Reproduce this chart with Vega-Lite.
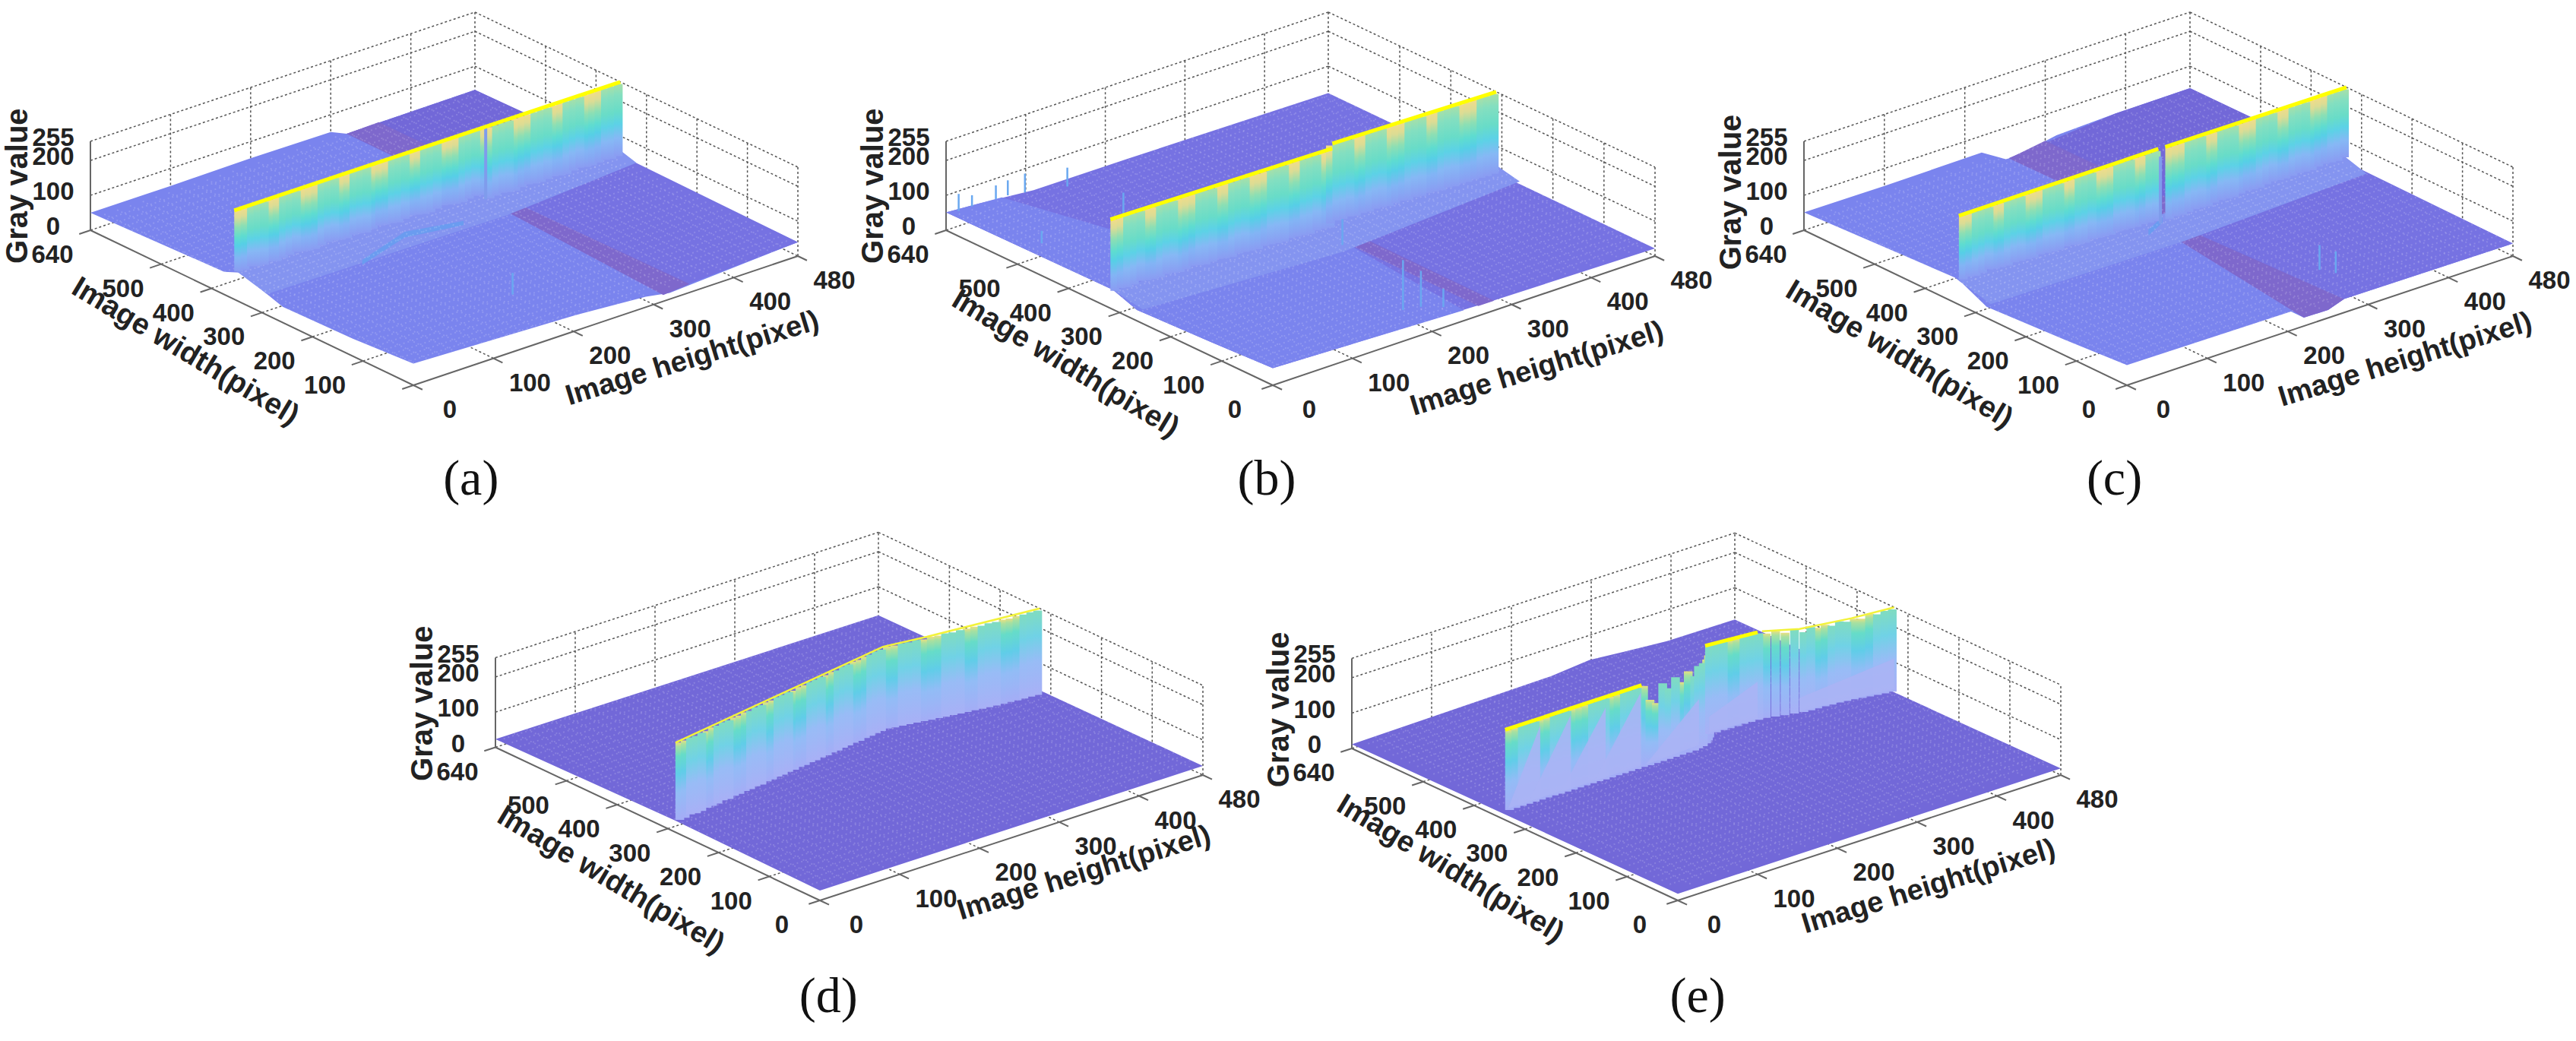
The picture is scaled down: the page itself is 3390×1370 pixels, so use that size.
{"$schema":"https://vega.github.io/schema/vega-lite/v6.json","width":3390,"height":1370,"autosize":{"type":"fit","contains":"padding"},"padding":0,"background":"white","config":{"view":{"stroke":null}},
"params":[{"name":"P","value":{"a":[544,507,-425,-204,506,-170,0.459],"b":[1675,507,-430,-204,503,-170,0.459],"c":[2799,507,-425,-204,508,-170,0.459],"d":[1079,1185,-427,-201.5,504,-165,0.4625],"e":[2208,1185,-429,-200,504,-165,0.465]}}],
"data":{"values":[
{"k":"g","p":"abcde","w":640,"h":0,"g":0,"w2":640,"h2":480,"g2":0},{"k":"g","p":"abcde","w":640,"h":0,"g":100,"w2":640,"h2":480,"g2":100},{"k":"g","p":"abcde","w":640,"h":0,"g":200,"w2":640,"h2":480,"g2":200},{"k":"g","p":"abcde","w":640,"h":0,"g":255,"w2":640,"h2":480,"g2":255},
{"k":"g","p":"abcde","w":640,"h":480,"g":0,"w2":0,"h2":480,"g2":0},{"k":"g","p":"abcde","w":640,"h":480,"g":100,"w2":0,"h2":480,"g2":100},{"k":"g","p":"abcde","w":640,"h":480,"g":200,"w2":0,"h2":480,"g2":200},{"k":"g","p":"abcde","w":640,"h":480,"g":255,"w2":0,"h2":480,"g2":255},
{"k":"g","p":"abcde","w":640,"h":100,"g":0,"w2":640,"h2":100,"g2":255},{"k":"g","p":"abcde","w":640,"h":200,"g":0,"w2":640,"h2":200,"g2":255},{"k":"g","p":"abcde","w":640,"h":300,"g":0,"w2":640,"h2":300,"g2":255},{"k":"g","p":"abcde","w":640,"h":400,"g":0,"w2":640,"h2":400,"g2":255},{"k":"g","p":"abcde","w":640,"h":480,"g":0,"w2":640,"h2":480,"g2":255},
{"k":"g","p":"abcde","w":500,"h":480,"g":0,"w2":500,"h2":480,"g2":255},{"k":"g","p":"abcde","w":400,"h":480,"g":0,"w2":400,"h2":480,"g2":255},{"k":"g","p":"abcde","w":300,"h":480,"g":0,"w2":300,"h2":480,"g2":255},{"k":"g","p":"abcde","w":200,"h":480,"g":0,"w2":200,"h2":480,"g2":255},{"k":"g","p":"abcde","w":100,"h":480,"g":0,"w2":100,"h2":480,"g2":255},{"k":"g","p":"abcde","w":0,"h":480,"g":0,"w2":0,"h2":480,"g2":255},
{"k":"g","p":"abcde","w":500,"h":0,"g":0,"w2":500,"h2":480,"g2":0},{"k":"g","p":"abcde","w":400,"h":0,"g":0,"w2":400,"h2":480,"g2":0},{"k":"g","p":"abcde","w":300,"h":0,"g":0,"w2":300,"h2":480,"g2":0},{"k":"g","p":"abcde","w":200,"h":0,"g":0,"w2":200,"h2":480,"g2":0},{"k":"g","p":"abcde","w":100,"h":0,"g":0,"w2":100,"h2":480,"g2":0},
{"k":"g","p":"abcde","w":0,"h":100,"g":0,"w2":640,"h2":100,"g2":0},{"k":"g","p":"abcde","w":0,"h":200,"g":0,"w2":640,"h2":200,"g2":0},{"k":"g","p":"abcde","w":0,"h":300,"g":0,"w2":640,"h2":300,"g2":0},{"k":"g","p":"abcde","w":0,"h":400,"g":0,"w2":640,"h2":400,"g2":0},
{"k":"a","p":"abcde","w":640,"h":0,"g":0,"w2":0,"h2":0,"g2":0},{"k":"a","p":"abcde","w":0,"h":0,"g":0,"w2":0,"h2":480,"g2":0},{"k":"a","p":"abcde","w":640,"h":0,"g":0,"w2":640,"h2":0,"g2":255},
{"k":"a","p":"abcde","w":640,"h":0,"g":0,"w2":640,"h2":-14,"g2":0},{"k":"a","p":"abcde","w":500,"h":0,"g":0,"w2":500,"h2":-14,"g2":0},{"k":"a","p":"abcde","w":400,"h":0,"g":0,"w2":400,"h2":-14,"g2":0},{"k":"a","p":"abcde","w":300,"h":0,"g":0,"w2":300,"h2":-14,"g2":0},{"k":"a","p":"abcde","w":200,"h":0,"g":0,"w2":200,"h2":-14,"g2":0},{"k":"a","p":"abcde","w":100,"h":0,"g":0,"w2":100,"h2":-14,"g2":0},{"k":"a","p":"abcde","w":0,"h":0,"g":0,"w2":0,"h2":-14,"g2":0},
{"k":"a","p":"abcde","w":0,"h":0,"g":0,"w2":-18,"h2":0,"g2":0},{"k":"a","p":"abcde","w":0,"h":100,"g":0,"w2":-18,"h2":100,"g2":0},{"k":"a","p":"abcde","w":0,"h":200,"g":0,"w2":-18,"h2":200,"g2":0},{"k":"a","p":"abcde","w":0,"h":300,"g":0,"w2":-18,"h2":300,"g2":0},{"k":"a","p":"abcde","w":0,"h":400,"g":0,"w2":-18,"h2":400,"g2":0},{"k":"a","p":"abcde","w":0,"h":480,"g":0,"w2":-18,"h2":480,"g2":0},

{"k":"f","p":"a","d":"a1","c":"l","w":640,"h":0,"g":50},{"k":"f","p":"a","d":"a1","c":"l","w":375,"h":0,"g":65},{"k":"f","p":"a","d":"a1","c":"l","w":343,"h":0,"g":85},{"k":"f","p":"a","d":"a1","c":"l","w":259,"h":0,"g":45},{"k":"f","p":"a","d":"a1","c":"l","w":120,"h":0,"g":50},{"k":"f","p":"a","d":"a1","c":"l","w":0,"h":0,"g":62},{"k":"f","p":"a","d":"a1","c":"l","w":0,"h":200,"g":45},{"k":"f","p":"a","d":"a1","c":"l","w":0,"h":290,"g":30},{"k":"f","p":"a","d":"a1","c":"l","w":0,"h":320,"g":18},{"k":"f","p":"a","d":"a1","c":"l","w":0,"h":480,"g":40},{"k":"f","p":"a","d":"a1","c":"l","w":640,"h":480,"g":32},{"k":"f","p":"a","d":"a1","c":"l","w":640,"h":320,"g":30},{"k":"f","p":"a","d":"a1","c":"l","w":640,"h":300,"g":50},{"k":"f","p":"a","d":"a1","c":"l","w":640,"h":200,"g":52},{"k":"f","p":"a","d":"a1","c":"l","w":640,"h":100,"g":50},
{"k":"f","p":"a","d":"a2","c":"m","w":350,"h":312,"g":50},{"k":"f","p":"a","d":"a2","c":"m","w":0,"h":312,"g":22},{"k":"f","p":"a","d":"a2","c":"m","w":0,"h":480,"g":40},{"k":"f","p":"a","d":"a2","c":"m","w":350,"h":480,"g":45},
{"k":"f","p":"a","d":"a3","c":"r","w":352,"h":312,"g":45},{"k":"f","p":"a","d":"a3","c":"r","w":0,"h":312,"g":18},{"k":"f","p":"a","d":"a3","c":"r","w":0,"h":345,"g":24},{"k":"f","p":"a","d":"a3","c":"r","w":352,"h":330,"g":45},
{"k":"f","p":"a","d":"a4","c":"n","w":640,"h":320,"g":30},{"k":"f","p":"a","d":"a4","c":"n","w":640,"h":480,"g":32},{"k":"f","p":"a","d":"a4","c":"n","w":355,"h":480,"g":40},{"k":"f","p":"a","d":"a4","c":"n","w":355,"h":320,"g":30},
{"k":"f","p":"a","d":"a5","c":"r","w":640,"h":320,"g":30},{"k":"f","p":"a","d":"a5","c":"r","w":640,"h":360,"g":32},{"k":"f","p":"a","d":"a5","c":"r","w":355,"h":360,"g":35},{"k":"f","p":"a","d":"a5","c":"r","w":355,"h":320,"g":30},
{"k":"f","p":"a","d":"a6","c":"t","w":355,"h":0,"g":85},{"k":"f","p":"a","d":"a6","c":"t","w":355,"h":480,"g":60},{"k":"f","p":"a","d":"a6","c":"t","w":320,"h":480,"g":45},{"k":"f","p":"a","d":"a6","c":"t","w":290,"h":300,"g":55},{"k":"f","p":"a","d":"a6","c":"t","w":290,"h":0,"g":60},
{"k":"f","p":"a","d":"a7","c":"b","w":287,"h":117,"g":56},{"k":"f","p":"a","d":"a7","c":"b","w":317,"h":189,"g":58},{"k":"f","p":"a","d":"a7","c":"b","w":299,"h":251,"g":58},{"k":"f","p":"a","d":"a7","c":"b","w":299,"h":251,"g":70},{"k":"f","p":"a","d":"a7","c":"b","w":317,"h":189,"g":74},{"k":"f","p":"a","d":"a7","c":"b","w":287,"h":117,"g":70},

{"k":"f","p":"b","d":"b1","c":"m","w":640,"h":0,"g":51},{"k":"f","p":"b","d":"b1","c":"m","w":313,"h":0,"g":56},{"k":"f","p":"b","d":"b1","c":"m","w":266,"h":0,"g":31},{"k":"f","p":"b","d":"b1","c":"m","w":120,"h":0,"g":40},{"k":"f","p":"b","d":"b1","c":"m","w":0,"h":0,"g":49},{"k":"f","p":"b","d":"b1","c":"m","w":0,"h":270,"g":29},{"k":"f","p":"b","d":"b1","c":"m","w":0,"h":480,"g":22},{"k":"f","p":"b","d":"b1","c":"m","w":640,"h":480,"g":23},{"k":"f","p":"b","d":"b1","c":"m","w":640,"h":230,"g":29},{"k":"f","p":"b","d":"b1","c":"m","w":640,"h":110,"g":30},{"k":"f","p":"b","d":"b1","c":"m","w":640,"h":40,"g":45},
{"k":"f","p":"b","d":"b2","c":"l","w":640,"h":0,"g":51},{"k":"f","p":"b","d":"b2","c":"l","w":313,"h":0,"g":56},{"k":"f","p":"b","d":"b2","c":"l","w":313,"h":130,"g":40},{"k":"f","p":"b","d":"b2","c":"l","w":640,"h":70,"g":40},
{"k":"f","p":"b","d":"b3","c":"l","w":313,"h":0,"g":56},{"k":"f","p":"b","d":"b3","c":"l","w":266,"h":0,"g":31},{"k":"f","p":"b","d":"b3","c":"l","w":120,"h":0,"g":40},{"k":"f","p":"b","d":"b3","c":"l","w":0,"h":0,"g":49},{"k":"f","p":"b","d":"b3","c":"l","w":0,"h":240,"g":30},{"k":"f","p":"b","d":"b3","c":"l","w":300,"h":260,"g":30},
{"k":"f","p":"b","d":"b4","c":"r","w":270,"h":258,"g":30},{"k":"f","p":"b","d":"b4","c":"r","w":0,"h":258,"g":28},{"k":"f","p":"b","d":"b4","c":"r","w":0,"h":278,"g":28},{"k":"f","p":"b","d":"b4","c":"r","w":270,"h":278,"g":30},
{"k":"f","p":"b","d":"b5","c":"t","w":312,"h":0,"g":55},{"k":"f","p":"b","d":"b5","c":"t","w":312,"h":480,"g":45},{"k":"f","p":"b","d":"b5","c":"t","w":265,"h":480,"g":30},{"k":"f","p":"b","d":"b5","c":"t","w":235,"h":240,"g":35},{"k":"f","p":"b","d":"b5","c":"t","w":255,"h":0,"g":40},

{"k":"f","p":"c","d":"c1","c":"l","w":640,"h":0,"g":51},{"k":"f","p":"c","d":"c1","c":"l","w":341,"h":0,"g":72},{"k":"f","p":"c","d":"c1","c":"l","w":325,"h":0,"g":65},{"k":"f","p":"c","d":"c1","c":"l","w":278,"h":0,"g":32},{"k":"f","p":"c","d":"c1","c":"l","w":120,"h":0,"g":45},{"k":"f","p":"c","d":"c1","c":"l","w":0,"h":0,"g":58},{"k":"f","p":"c","d":"c1","c":"l","w":0,"h":204,"g":54},{"k":"f","p":"c","d":"c1","c":"l","w":0,"h":220,"g":24},{"k":"f","p":"c","d":"c1","c":"l","w":0,"h":250,"g":23},{"k":"f","p":"c","d":"c1","c":"l","w":0,"h":270,"g":39},{"k":"f","p":"c","d":"c1","c":"l","w":0,"h":480,"g":36},{"k":"f","p":"c","d":"c1","c":"l","w":640,"h":480,"g":37},{"k":"f","p":"c","d":"c1","c":"l","w":640,"h":387,"g":36},{"k":"f","p":"c","d":"c1","c":"l","w":640,"h":314,"g":30},{"k":"f","p":"c","d":"c1","c":"l","w":640,"h":264,"g":8},{"k":"f","p":"c","d":"c1","c":"l","w":640,"h":251,"g":10},{"k":"f","p":"c","d":"c1","c":"l","w":640,"h":221,"g":52},{"k":"f","p":"c","d":"c1","c":"l","w":640,"h":100,"g":50},
{"k":"f","p":"c","d":"c2","c":"m","w":330,"h":255,"g":30},{"k":"f","p":"c","d":"c2","c":"m","w":0,"h":250,"g":23},{"k":"f","p":"c","d":"c2","c":"m","w":0,"h":270,"g":39},{"k":"f","p":"c","d":"c2","c":"m","w":0,"h":480,"g":36},{"k":"f","p":"c","d":"c2","c":"m","w":330,"h":480,"g":40},
{"k":"f","p":"c","d":"c3","c":"r","w":335,"h":250,"g":25},{"k":"f","p":"c","d":"c3","c":"r","w":0,"h":220,"g":24},{"k":"f","p":"c","d":"c3","c":"r","w":0,"h":250,"g":23},{"k":"f","p":"c","d":"c3","c":"r","w":0,"h":270,"g":39},{"k":"f","p":"c","d":"c3","c":"r","w":335,"h":265,"g":30},
{"k":"f","p":"c","d":"c4","c":"n","w":640,"h":255,"g":10},{"k":"f","p":"c","d":"c4","c":"n","w":640,"h":387,"g":36},{"k":"f","p":"c","d":"c4","c":"n","w":640,"h":480,"g":37},{"k":"f","p":"c","d":"c4","c":"n","w":330,"h":480,"g":40},{"k":"f","p":"c","d":"c4","c":"n","w":330,"h":255,"g":20},
{"k":"f","p":"c","d":"c5","c":"r","w":640,"h":255,"g":9},{"k":"f","p":"c","d":"c5","c":"r","w":640,"h":300,"g":25},{"k":"f","p":"c","d":"c5","c":"r","w":330,"h":300,"g":30},{"k":"f","p":"c","d":"c5","c":"r","w":330,"h":255,"g":15},
{"k":"f","p":"c","d":"c6","c":"t","w":335,"h":0,"g":70},{"k":"f","p":"c","d":"c6","c":"t","w":335,"h":480,"g":55},{"k":"f","p":"c","d":"c6","c":"t","w":290,"h":480,"g":35},{"k":"f","p":"c","d":"c6","c":"t","w":270,"h":240,"g":40},{"k":"f","p":"c","d":"c6","c":"t","w":270,"h":0,"g":45},
{"k":"f","p":"c","d":"c7","c":"b","w":300,"h":215,"g":55},{"k":"f","p":"c","d":"c7","c":"b","w":320,"h":245,"g":55},{"k":"f","p":"c","d":"c7","c":"b","w":320,"h":245,"g":72},{"k":"f","p":"c","d":"c7","c":"b","w":300,"h":215,"g":72},

{"k":"f","p":"d","d":"d1","c":"n","w":640,"h":0,"g":23},{"k":"f","p":"d","d":"d1","c":"n","w":285,"h":0,"g":33},{"k":"f","p":"d","d":"d1","c":"n","w":0,"h":0,"g":28},{"k":"f","p":"d","d":"d1","c":"n","w":0,"h":480,"g":26},{"k":"f","p":"d","d":"d1","c":"n","w":640,"h":480,"g":19},
{"k":"f","p":"e","d":"e1","c":"n","w":640,"h":0,"g":12},{"k":"f","p":"e","d":"e1","c":"n","w":0,"h":0,"g":19},{"k":"f","p":"e","d":"e1","c":"n","w":0,"h":480,"g":19},{"k":"f","p":"e","d":"e1","c":"n","w":640,"h":480,"g":10},{"k":"f","p":"e","d":"e1","c":"n","w":640,"h":395,"g":12},{"k":"f","p":"e","d":"e1","c":"n","w":640,"h":340,"g":22},{"k":"f","p":"e","d":"e1","c":"n","w":640,"h":298,"g":30},{"k":"f","p":"e","d":"e1","c":"n","w":640,"h":250,"g":20},

{"k":"m","p":"abcde","w":16,"h":0,"g":35,"w2":16,"h2":480,"g2":35},{"k":"m","p":"abcde","w":32,"h":0,"g":35,"w2":32,"h2":480,"g2":35},{"k":"m","p":"abcde","w":48,"h":0,"g":35,"w2":48,"h2":480,"g2":35},{"k":"m","p":"abcde","w":64,"h":0,"g":35,"w2":64,"h2":480,"g2":35},{"k":"m","p":"abcde","w":80,"h":0,"g":35,"w2":80,"h2":480,"g2":35},{"k":"m","p":"abcde","w":96,"h":0,"g":35,"w2":96,"h2":480,"g2":35},{"k":"m","p":"abcde","w":112,"h":0,"g":35,"w2":112,"h2":480,"g2":35},{"k":"m","p":"abcde","w":128,"h":0,"g":35,"w2":128,"h2":480,"g2":35},{"k":"m","p":"abcde","w":144,"h":0,"g":35,"w2":144,"h2":480,"g2":35},{"k":"m","p":"abcde","w":160,"h":0,"g":35,"w2":160,"h2":480,"g2":35},{"k":"m","p":"abcde","w":176,"h":0,"g":35,"w2":176,"h2":480,"g2":35},{"k":"m","p":"abcde","w":192,"h":0,"g":35,"w2":192,"h2":480,"g2":35},{"k":"m","p":"abcde","w":208,"h":0,"g":35,"w2":208,"h2":480,"g2":35},{"k":"m","p":"abcde","w":224,"h":0,"g":35,"w2":224,"h2":480,"g2":35},{"k":"m","p":"abcde","w":240,"h":0,"g":35,"w2":240,"h2":480,"g2":35},{"k":"m","p":"abcde","w":256,"h":0,"g":35,"w2":256,"h2":480,"g2":35},{"k":"m","p":"abcde","w":272,"h":0,"g":35,"w2":272,"h2":480,"g2":35},{"k":"m","p":"abcde","w":288,"h":0,"g":35,"w2":288,"h2":480,"g2":35},{"k":"m","p":"abcde","w":304,"h":0,"g":35,"w2":304,"h2":480,"g2":35},{"k":"m","p":"abcde","w":320,"h":0,"g":35,"w2":320,"h2":480,"g2":35},{"k":"m","p":"abcde","w":336,"h":0,"g":35,"w2":336,"h2":480,"g2":35},{"k":"m","p":"abcde","w":352,"h":0,"g":35,"w2":352,"h2":480,"g2":35},{"k":"m","p":"abcde","w":368,"h":0,"g":35,"w2":368,"h2":480,"g2":35},{"k":"m","p":"abcde","w":384,"h":0,"g":35,"w2":384,"h2":480,"g2":35},{"k":"m","p":"abcde","w":400,"h":0,"g":35,"w2":400,"h2":480,"g2":35},{"k":"m","p":"abcde","w":416,"h":0,"g":35,"w2":416,"h2":480,"g2":35},{"k":"m","p":"abcde","w":432,"h":0,"g":35,"w2":432,"h2":480,"g2":35},{"k":"m","p":"abcde","w":448,"h":0,"g":35,"w2":448,"h2":480,"g2":35},{"k":"m","p":"abcde","w":464,"h":0,"g":35,"w2":464,"h2":480,"g2":35},{"k":"m","p":"abcde","w":480,"h":0,"g":35,"w2":480,"h2":480,"g2":35},{"k":"m","p":"abcde","w":496,"h":0,"g":35,"w2":496,"h2":480,"g2":35},{"k":"m","p":"abcde","w":512,"h":0,"g":35,"w2":512,"h2":480,"g2":35},{"k":"m","p":"abcde","w":528,"h":0,"g":35,"w2":528,"h2":480,"g2":35},{"k":"m","p":"abcde","w":544,"h":0,"g":35,"w2":544,"h2":480,"g2":35},{"k":"m","p":"abcde","w":560,"h":0,"g":35,"w2":560,"h2":480,"g2":35},{"k":"m","p":"abcde","w":576,"h":0,"g":35,"w2":576,"h2":480,"g2":35},{"k":"m","p":"abcde","w":592,"h":0,"g":35,"w2":592,"h2":480,"g2":35},{"k":"m","p":"abcde","w":608,"h":0,"g":35,"w2":608,"h2":480,"g2":35},{"k":"m","p":"abcde","w":624,"h":0,"g":35,"w2":624,"h2":480,"g2":35},
{"k":"m","p":"abcde","w":0,"h":16,"g":35,"w2":640,"h2":16,"g2":35},{"k":"m","p":"abcde","w":0,"h":32,"g":35,"w2":640,"h2":32,"g2":35},{"k":"m","p":"abcde","w":0,"h":48,"g":35,"w2":640,"h2":48,"g2":35},{"k":"m","p":"abcde","w":0,"h":64,"g":35,"w2":640,"h2":64,"g2":35},{"k":"m","p":"abcde","w":0,"h":80,"g":35,"w2":640,"h2":80,"g2":35},{"k":"m","p":"abcde","w":0,"h":96,"g":35,"w2":640,"h2":96,"g2":35},{"k":"m","p":"abcde","w":0,"h":112,"g":35,"w2":640,"h2":112,"g2":35},{"k":"m","p":"abcde","w":0,"h":128,"g":35,"w2":640,"h2":128,"g2":35},{"k":"m","p":"abcde","w":0,"h":144,"g":35,"w2":640,"h2":144,"g2":35},{"k":"m","p":"abcde","w":0,"h":160,"g":35,"w2":640,"h2":160,"g2":35},{"k":"m","p":"abcde","w":0,"h":176,"g":35,"w2":640,"h2":176,"g2":35},{"k":"m","p":"abcde","w":0,"h":192,"g":35,"w2":640,"h2":192,"g2":35},{"k":"m","p":"abcde","w":0,"h":208,"g":35,"w2":640,"h2":208,"g2":35},{"k":"m","p":"abcde","w":0,"h":224,"g":35,"w2":640,"h2":224,"g2":35},{"k":"m","p":"abcde","w":0,"h":240,"g":35,"w2":640,"h2":240,"g2":35},{"k":"m","p":"abcde","w":0,"h":256,"g":35,"w2":640,"h2":256,"g2":35},{"k":"m","p":"abcde","w":0,"h":272,"g":35,"w2":640,"h2":272,"g2":35},{"k":"m","p":"abcde","w":0,"h":288,"g":35,"w2":640,"h2":288,"g2":35},{"k":"m","p":"abcde","w":0,"h":304,"g":35,"w2":640,"h2":304,"g2":35},{"k":"m","p":"abcde","w":0,"h":320,"g":35,"w2":640,"h2":320,"g2":35},{"k":"m","p":"abcde","w":0,"h":336,"g":35,"w2":640,"h2":336,"g2":35},{"k":"m","p":"abcde","w":0,"h":352,"g":35,"w2":640,"h2":352,"g2":35},{"k":"m","p":"abcde","w":0,"h":368,"g":35,"w2":640,"h2":368,"g2":35},{"k":"m","p":"abcde","w":0,"h":384,"g":35,"w2":640,"h2":384,"g2":35},{"k":"m","p":"abcde","w":0,"h":400,"g":35,"w2":640,"h2":400,"g2":35},{"k":"m","p":"abcde","w":0,"h":416,"g":35,"w2":640,"h2":416,"g2":35},{"k":"m","p":"abcde","w":0,"h":432,"g":35,"w2":640,"h2":432,"g2":35},{"k":"m","p":"abcde","w":0,"h":448,"g":35,"w2":640,"h2":448,"g2":35},{"k":"m","p":"abcde","w":0,"h":464,"g":35,"w2":640,"h2":464,"g2":35},

{"k":"x","p":"b","w":46,"h":193,"g":178,"w2":46,"h2":193,"g2":35},{"k":"x","p":"b","w":39,"h":211,"g":138,"w2":39,"h2":211,"g2":35},{"k":"x","p":"b","w":20,"h":227,"g":88,"w2":20,"h2":227,"g2":35},{"k":"x","p":"b","w":252,"h":249,"g":160,"w2":252,"h2":249,"g2":35},{"k":"x","p":"b","w":497,"h":131,"g":106,"w2":497,"h2":131,"g2":35},{"k":"x","p":"b","w":629,"h":92,"g":99,"w2":629,"h2":92,"g2":45},{"k":"x","p":"b","w":613,"h":135,"g":94,"w2":613,"h2":135,"g2":40},{"k":"x","p":"b","w":634,"h":12,"g":99,"w2":634,"h2":12,"g2":50},{"k":"x","p":"b","w":501,"h":31,"g":71,"w2":501,"h2":31,"g2":35},{"k":"x","p":"b","w":636,"h":30,"g":80,"w2":636,"h2":30,"g2":48},{"k":"x","p":"b","w":636,"h":60,"g":85,"w2":636,"h2":60,"g2":45},{"k":"x","p":"b","w":636,"h":75,"g":88,"w2":636,"h2":75,"g2":45},{"k":"x","p":"a","w":97,"h":185,"g":112,"w2":97,"h2":185,"g2":50},{"k":"x","p":"c","w":90,"h":296,"g":111,"w2":90,"h2":296,"g2":40},{"k":"x","p":"c","w":69,"h":303,"g":102,"w2":69,"h2":303,"g2":40},

{"k":"v","p":"a","w":355,"h":0,"g":255,"f":80},{"k":"v","p":"a","w":355,"h":8,"g":255,"f":78},{"k":"v","p":"a","w":355,"h":16,"g":255,"f":82},{"k":"v","p":"a","w":355,"h":24,"g":255,"f":76},{"k":"v","p":"a","w":355,"h":32,"g":255,"f":74},{"k":"v","p":"a","w":355,"h":40,"g":255,"f":78},{"k":"v","p":"a","w":355,"h":48,"g":255,"f":72},{"k":"v","p":"a","w":355,"h":56,"g":255,"f":75},{"k":"v","p":"a","w":355,"h":64,"g":255,"f":78},{"k":"v","p":"a","w":355,"h":72,"g":255,"f":80},{"k":"v","p":"a","w":355,"h":80,"g":255,"f":76},{"k":"v","p":"a","w":355,"h":88,"g":255,"f":72},{"k":"v","p":"a","w":355,"h":96,"g":255,"f":70},{"k":"v","p":"a","w":355,"h":104,"g":255,"f":74},{"k":"v","p":"a","w":355,"h":112,"g":255,"f":78},{"k":"v","p":"a","w":355,"h":120,"g":255,"f":76},{"k":"v","p":"a","w":355,"h":128,"g":255,"f":72},{"k":"v","p":"a","w":355,"h":136,"g":255,"f":70},{"k":"v","p":"a","w":355,"h":144,"g":255,"f":74},{"k":"v","p":"a","w":355,"h":152,"g":255,"f":72},{"k":"v","p":"a","w":355,"h":160,"g":255,"f":68},{"k":"v","p":"a","w":355,"h":168,"g":255,"f":72},{"k":"v","p":"a","w":355,"h":176,"g":255,"f":76},{"k":"v","p":"a","w":355,"h":184,"g":255,"f":72},{"k":"v","p":"a","w":355,"h":192,"g":255,"f":70},{"k":"v","p":"a","w":355,"h":200,"g":255,"f":66},{"k":"v","p":"a","w":355,"h":208,"g":255,"f":70},{"k":"v","p":"a","w":355,"h":216,"g":255,"f":74},{"k":"v","p":"a","w":355,"h":224,"g":255,"f":70},{"k":"v","p":"a","w":355,"h":232,"g":255,"f":66},{"k":"v","p":"a","w":355,"h":240,"g":255,"f":64},{"k":"v","p":"a","w":355,"h":248,"g":255,"f":68},{"k":"v","p":"a","w":355,"h":256,"g":255,"f":72},{"k":"v","p":"a","w":355,"h":264,"g":255,"f":68},{"k":"v","p":"a","w":355,"h":272,"g":255,"f":64},{"k":"v","p":"a","w":355,"h":280,"g":255,"f":62},{"k":"v","p":"a","w":355,"h":288,"g":255,"f":66},{"k":"v","p":"a","w":355,"h":296,"g":255,"f":68},{"k":"v","p":"a","w":355,"h":304,"g":255,"f":64},{"k":"v","p":"a","w":352,"h":312,"g":255,"f":50},{"k":"v","p":"a","w":352,"h":320,"g":255,"f":52},{"k":"v","p":"a","w":352,"h":328,"g":255,"f":54},{"k":"v","p":"a","w":352,"h":336,"g":255,"f":50},{"k":"v","p":"a","w":352,"h":344,"g":255,"f":48},{"k":"v","p":"a","w":352,"h":352,"g":255,"f":52},{"k":"v","p":"a","w":352,"h":360,"g":255,"f":54},{"k":"v","p":"a","w":352,"h":368,"g":255,"f":50},{"k":"v","p":"a","w":352,"h":376,"g":255,"f":48},{"k":"v","p":"a","w":352,"h":384,"g":255,"f":50},{"k":"v","p":"a","w":352,"h":392,"g":255,"f":52},{"k":"v","p":"a","w":352,"h":400,"g":255,"f":48},{"k":"v","p":"a","w":352,"h":408,"g":255,"f":46},{"k":"v","p":"a","w":352,"h":416,"g":255,"f":50},{"k":"v","p":"a","w":352,"h":424,"g":255,"f":52},{"k":"v","p":"a","w":352,"h":432,"g":255,"f":48},{"k":"v","p":"a","w":352,"h":440,"g":255,"f":46},{"k":"v","p":"a","w":352,"h":448,"g":255,"f":48},{"k":"v","p":"a","w":352,"h":456,"g":255,"f":50},{"k":"v","p":"a","w":352,"h":464,"g":255,"f":46},{"k":"v","p":"a","w":352,"h":472,"g":255,"f":48},

{"k":"v","p":"b","w":318,"h":0,"g":255,"f":50},{"k":"v","p":"b","w":318,"h":8,"g":255,"f":52},{"k":"v","p":"b","w":318,"h":16,"g":255,"f":48},{"k":"v","p":"b","w":317,"h":24,"g":255,"f":50},{"k":"v","p":"b","w":317,"h":32,"g":255,"f":54},{"k":"v","p":"b","w":317,"h":40,"g":255,"f":50},{"k":"v","p":"b","w":316,"h":48,"g":255,"f":48},{"k":"v","p":"b","w":316,"h":56,"g":255,"f":46},{"k":"v","p":"b","w":316,"h":64,"g":255,"f":50},{"k":"v","p":"b","w":315,"h":72,"g":255,"f":48},{"k":"v","p":"b","w":315,"h":80,"g":255,"f":44},{"k":"v","p":"b","w":315,"h":88,"g":255,"f":46},{"k":"v","p":"b","w":315,"h":96,"g":255,"f":50},{"k":"v","p":"b","w":314,"h":104,"g":255,"f":46},{"k":"v","p":"b","w":314,"h":112,"g":255,"f":42},{"k":"v","p":"b","w":313,"h":120,"g":255,"f":44},{"k":"v","p":"b","w":313,"h":128,"g":255,"f":46},{"k":"v","p":"b","w":313,"h":136,"g":255,"f":42},{"k":"v","p":"b","w":312,"h":144,"g":255,"f":40},{"k":"v","p":"b","w":312,"h":152,"g":255,"f":44},{"k":"v","p":"b","w":312,"h":160,"g":255,"f":42},{"k":"v","p":"b","w":312,"h":168,"g":255,"f":40},{"k":"v","p":"b","w":311,"h":176,"g":255,"f":38},{"k":"v","p":"b","w":311,"h":184,"g":255,"f":42},{"k":"v","p":"b","w":311,"h":192,"g":255,"f":40},{"k":"v","p":"b","w":310,"h":200,"g":255,"f":38},{"k":"v","p":"b","w":310,"h":208,"g":255,"f":36},{"k":"v","p":"b","w":310,"h":216,"g":255,"f":40},{"k":"v","p":"b","w":310,"h":224,"g":255,"f":38},{"k":"v","p":"b","w":309,"h":232,"g":255,"f":36},{"k":"v","p":"b","w":309,"h":240,"g":255,"f":34},{"k":"v","p":"b","w":309,"h":248,"g":255,"f":38},{"k":"v","p":"b","w":309,"h":256,"g":255,"f":36},{"k":"v","p":"b","w":308,"h":264,"g":255,"f":34},{"k":"v","p":"b","w":320,"h":272,"g":255,"f":32},{"k":"v","p":"b","w":320,"h":280,"g":255,"f":34},{"k":"v","p":"b","w":320,"h":288,"g":255,"f":32},{"k":"v","p":"b","w":319,"h":296,"g":255,"f":34},{"k":"v","p":"b","w":319,"h":304,"g":255,"f":30},{"k":"v","p":"b","w":319,"h":312,"g":255,"f":32},{"k":"v","p":"b","w":318,"h":320,"g":255,"f":30},{"k":"v","p":"b","w":318,"h":328,"g":255,"f":32},{"k":"v","p":"b","w":318,"h":336,"g":255,"f":30},{"k":"v","p":"b","w":317,"h":344,"g":255,"f":28},{"k":"v","p":"b","w":317,"h":352,"g":255,"f":30},{"k":"v","p":"b","w":316,"h":360,"g":255,"f":32},{"k":"v","p":"b","w":316,"h":368,"g":255,"f":28},{"k":"v","p":"b","w":316,"h":376,"g":255,"f":30},{"k":"v","p":"b","w":315,"h":384,"g":255,"f":28},{"k":"v","p":"b","w":315,"h":392,"g":255,"f":30},{"k":"v","p":"b","w":315,"h":400,"g":255,"f":28},{"k":"v","p":"b","w":314,"h":408,"g":255,"f":26},{"k":"v","p":"b","w":314,"h":416,"g":255,"f":28},{"k":"v","p":"b","w":313,"h":424,"g":255,"f":26},{"k":"v","p":"b","w":313,"h":432,"g":255,"f":28},{"k":"v","p":"b","w":313,"h":440,"g":255,"f":26},{"k":"v","p":"b","w":312,"h":448,"g":255,"f":28},{"k":"v","p":"b","w":312,"h":456,"g":255,"f":26},{"k":"v","p":"b","w":312,"h":464,"g":255,"f":25},{"k":"v","p":"b","w":311,"h":472,"g":255,"f":26},

{"k":"v","p":"c","w":333,"h":0,"g":255,"f":72},{"k":"v","p":"c","w":333,"h":8,"g":255,"f":74},{"k":"v","p":"c","w":333,"h":16,"g":255,"f":70},{"k":"v","p":"c","w":333,"h":24,"g":255,"f":72},{"k":"v","p":"c","w":333,"h":32,"g":255,"f":76},{"k":"v","p":"c","w":333,"h":40,"g":255,"f":72},{"k":"v","p":"c","w":333,"h":48,"g":255,"f":70},{"k":"v","p":"c","w":333,"h":56,"g":255,"f":68},{"k":"v","p":"c","w":333,"h":64,"g":255,"f":72},{"k":"v","p":"c","w":333,"h":72,"g":255,"f":70},{"k":"v","p":"c","w":333,"h":80,"g":255,"f":68},{"k":"v","p":"c","w":333,"h":88,"g":255,"f":66},{"k":"v","p":"c","w":333,"h":96,"g":255,"f":70},{"k":"v","p":"c","w":333,"h":104,"g":255,"f":68},{"k":"v","p":"c","w":333,"h":112,"g":255,"f":66},{"k":"v","p":"c","w":333,"h":120,"g":255,"f":64},{"k":"v","p":"c","w":333,"h":128,"g":255,"f":68},{"k":"v","p":"c","w":333,"h":136,"g":255,"f":66},{"k":"v","p":"c","w":333,"h":144,"g":255,"f":62},{"k":"v","p":"c","w":333,"h":152,"g":255,"f":60},{"k":"v","p":"c","w":333,"h":160,"g":255,"f":64},{"k":"v","p":"c","w":333,"h":168,"g":255,"f":62},{"k":"v","p":"c","w":333,"h":176,"g":255,"f":60},{"k":"v","p":"c","w":333,"h":184,"g":255,"f":58},{"k":"v","p":"c","w":333,"h":192,"g":255,"f":62},{"k":"v","p":"c","w":333,"h":200,"g":255,"f":60},{"k":"v","p":"c","w":333,"h":208,"g":255,"f":58},{"k":"v","p":"c","w":333,"h":216,"g":255,"f":56},{"k":"v","p":"c","w":333,"h":224,"g":255,"f":58},{"k":"v","p":"c","w":333,"h":232,"g":255,"f":56},{"k":"v","p":"c","w":333,"h":240,"g":255,"f":54},{"k":"v","p":"c","w":332,"h":256,"g":255,"f":48},{"k":"v","p":"c","w":332,"h":264,"g":255,"f":50},{"k":"v","p":"c","w":332,"h":272,"g":255,"f":48},{"k":"v","p":"c","w":332,"h":280,"g":255,"f":50},{"k":"v","p":"c","w":332,"h":288,"g":255,"f":52},{"k":"v","p":"c","w":332,"h":296,"g":255,"f":50},{"k":"v","p":"c","w":332,"h":304,"g":255,"f":48},{"k":"v","p":"c","w":332,"h":312,"g":255,"f":52},{"k":"v","p":"c","w":331,"h":320,"g":255,"f":54},{"k":"v","p":"c","w":331,"h":328,"g":255,"f":52},{"k":"v","p":"c","w":331,"h":336,"g":255,"f":50},{"k":"v","p":"c","w":331,"h":344,"g":255,"f":54},{"k":"v","p":"c","w":331,"h":352,"g":255,"f":56},{"k":"v","p":"c","w":331,"h":360,"g":255,"f":54},{"k":"v","p":"c","w":331,"h":368,"g":255,"f":52},{"k":"v","p":"c","w":331,"h":376,"g":255,"f":56},{"k":"v","p":"c","w":331,"h":384,"g":255,"f":58},{"k":"v","p":"c","w":331,"h":392,"g":255,"f":56},{"k":"v","p":"c","w":331,"h":400,"g":255,"f":54},{"k":"v","p":"c","w":330,"h":408,"g":255,"f":56},{"k":"v","p":"c","w":330,"h":416,"g":255,"f":58},{"k":"v","p":"c","w":330,"h":424,"g":255,"f":56},{"k":"v","p":"c","w":330,"h":432,"g":255,"f":54},{"k":"v","p":"c","w":330,"h":440,"g":255,"f":58},{"k":"v","p":"c","w":330,"h":448,"g":255,"f":60},{"k":"v","p":"c","w":330,"h":456,"g":255,"f":58},{"k":"v","p":"c","w":330,"h":464,"g":255,"f":56},{"k":"v","p":"c","w":330,"h":472,"g":255,"f":60},

{"k":"v","p":"d","w":285,"h":0,"g":255,"f":35},{"k":"v","p":"d","w":287,"h":8,"g":254,"f":34},{"k":"v","p":"d","w":289,"h":16,"g":255,"f":36},{"k":"v","p":"d","w":290,"h":24,"g":253,"f":33},{"k":"v","p":"d","w":292,"h":32,"g":255,"f":32},{"k":"v","p":"d","w":294,"h":40,"g":252,"f":34},{"k":"v","p":"d","w":296,"h":48,"g":255,"f":32},{"k":"v","p":"d","w":298,"h":56,"g":253,"f":31},{"k":"v","p":"d","w":300,"h":64,"g":255,"f":33},{"k":"v","p":"d","w":301,"h":72,"g":254,"f":30},{"k":"v","p":"d","w":303,"h":80,"g":255,"f":32},{"k":"v","p":"d","w":305,"h":88,"g":253,"f":30},{"k":"v","p":"d","w":307,"h":96,"g":255,"f":31},{"k":"v","p":"d","w":309,"h":104,"g":252,"f":29},{"k":"v","p":"d","w":311,"h":112,"g":255,"f":30},{"k":"v","p":"d","w":312,"h":120,"g":254,"f":28},{"k":"v","p":"d","w":314,"h":128,"g":255,"f":30},{"k":"v","p":"d","w":316,"h":136,"g":253,"f":28},{"k":"v","p":"d","w":318,"h":144,"g":255,"f":29},{"k":"v","p":"d","w":320,"h":152,"g":254,"f":27},{"k":"v","p":"d","w":322,"h":160,"g":255,"f":28},{"k":"v","p":"d","w":323,"h":168,"g":252,"f":27},{"k":"v","p":"d","w":325,"h":176,"g":255,"f":28},{"k":"v","p":"d","w":327,"h":184,"g":253,"f":26},{"k":"v","p":"d","w":329,"h":192,"g":255,"f":27},{"k":"v","p":"d","w":331,"h":200,"g":254,"f":25},{"k":"v","p":"d","w":333,"h":208,"g":255,"f":26},{"k":"v","p":"d","w":334,"h":216,"g":253,"f":25},{"k":"v","p":"d","w":336,"h":224,"g":255,"f":26},{"k":"v","p":"d","w":338,"h":232,"g":252,"f":24},{"k":"v","p":"d","w":340,"h":240,"g":255,"f":25},{"k":"v","p":"d","w":342,"h":248,"g":254,"f":24},{"k":"v","p":"d","w":344,"h":256,"g":255,"f":24},{"k":"v","p":"d","w":345,"h":264,"g":253,"f":23},{"k":"v","p":"d","w":347,"h":272,"g":255,"f":24},{"k":"v","p":"d","w":349,"h":280,"g":254,"f":23},{"k":"v","p":"d","w":351,"h":288,"g":255,"f":23},{"k":"v","p":"d","w":353,"h":296,"g":253,"f":22},{"k":"v","p":"d","w":354,"h":304,"g":255,"f":22},{"k":"v","p":"d","w":352,"h":312,"g":254,"f":21},{"k":"v","p":"d","w":350,"h":320,"g":255,"f":21},{"k":"v","p":"d","w":349,"h":328,"g":253,"f":20},{"k":"v","p":"d","w":347,"h":336,"g":255,"f":20},{"k":"v","p":"d","w":345,"h":344,"g":252,"f":20},{"k":"v","p":"d","w":343,"h":352,"g":255,"f":19},{"k":"v","p":"d","w":341,"h":360,"g":254,"f":19},{"k":"v","p":"d","w":340,"h":368,"g":255,"f":18},{"k":"v","p":"d","w":338,"h":376,"g":253,"f":18},{"k":"v","p":"d","w":336,"h":384,"g":255,"f":18},{"k":"v","p":"d","w":335,"h":392,"g":254,"f":17},{"k":"v","p":"d","w":333,"h":400,"g":255,"f":17},{"k":"v","p":"d","w":331,"h":408,"g":253,"f":17},{"k":"v","p":"d","w":330,"h":416,"g":255,"f":16},{"k":"v","p":"d","w":328,"h":424,"g":254,"f":16},{"k":"v","p":"d","w":327,"h":432,"g":255,"f":16},{"k":"v","p":"d","w":326,"h":440,"g":253,"f":16},{"k":"v","p":"d","w":325,"h":448,"g":255,"f":15},{"k":"v","p":"d","w":324,"h":456,"g":254,"f":15},{"k":"v","p":"d","w":323,"h":464,"g":255,"f":15},{"k":"v","p":"d","w":322,"h":472,"g":255,"f":15},

{"k":"v","p":"e","w":339,"h":0,"g":255,"f":28},{"k":"v","p":"e","w":339,"h":8,"g":255,"f":28},{"k":"v","p":"e","w":339,"h":16,"g":255,"f":28},{"k":"v","p":"e","w":339,"h":24,"g":255,"f":28},{"k":"v","p":"e","w":339,"h":32,"g":255,"f":28},{"k":"v","p":"e","w":339,"h":40,"g":255,"f":28},{"k":"v","p":"e","w":339,"h":48,"g":255,"f":28},{"k":"v","p":"e","w":339,"h":56,"g":255,"f":28},{"k":"v","p":"e","w":339,"h":64,"g":255,"f":27},{"k":"v","p":"e","w":339,"h":72,"g":255,"f":27},{"k":"v","p":"e","w":339,"h":80,"g":255,"f":27},{"k":"v","p":"e","w":339,"h":88,"g":255,"f":27},{"k":"v","p":"e","w":339,"h":96,"g":255,"f":27},{"k":"v","p":"e","w":339,"h":104,"g":255,"f":27},{"k":"v","p":"e","w":339,"h":112,"g":255,"f":27},{"k":"v","p":"e","w":339,"h":120,"g":255,"f":26},{"k":"v","p":"e","w":339,"h":128,"g":255,"f":26},{"k":"v","p":"e","w":339,"h":136,"g":255,"f":26},{"k":"v","p":"e","w":339,"h":144,"g":255,"f":26},{"k":"v","p":"e","w":339,"h":152,"g":255,"f":26},{"k":"v","p":"e","w":339,"h":160,"g":255,"f":26},{"k":"v","p":"e","w":339,"h":168,"g":255,"f":26},{"k":"v","p":"e","w":339,"h":176,"g":210,"f":25},{"k":"v","p":"e","w":339,"h":184,"g":195,"f":25},{"k":"v","p":"e","w":339,"h":192,"g":245,"f":25},{"k":"v","p":"e","w":339,"h":200,"g":225,"f":25},{"k":"v","p":"e","w":339,"h":208,"g":250,"f":25},{"k":"v","p":"e","w":339,"h":216,"g":230,"f":25},{"k":"v","p":"e","w":339,"h":224,"g":255,"f":25},{"k":"v","p":"e","w":339,"h":232,"g":235,"f":25},{"k":"v","p":"e","w":344,"h":240,"g":255,"f":22},{"k":"v","p":"e","w":347,"h":248,"g":255,"f":20},{"k":"v","p":"e","w":353,"h":256,"g":255,"f":18},{"k":"v","p":"e","w":362,"h":264,"g":255,"f":14},{"k":"v","p":"e","w":372,"h":272,"g":255,"f":10},{"k":"v","p":"e","w":385,"h":280,"g":255,"f":5},{"k":"v","p":"e","w":384,"h":288,"g":255,"f":5},{"k":"v","p":"e","w":383,"h":296,"g":255,"f":6},{"k":"v","p":"e","w":382,"h":304,"g":255,"f":6},{"k":"v","p":"e","w":381,"h":312,"g":255,"f":7},{"k":"v","p":"e","w":380,"h":320,"g":255,"f":8},{"k":"v","p":"e","w":379,"h":328,"g":255,"f":8},{"k":"v","p":"e","w":376,"h":336,"g":255,"f":10},{"k":"v","p":"e","w":374,"h":344,"g":250,"f":11},{"k":"v","p":"e","w":368,"h":352,"g":255,"f":13},{"k":"v","p":"e","w":362,"h":360,"g":248,"f":15},{"k":"v","p":"e","w":356,"h":368,"g":255,"f":18},{"k":"v","p":"e","w":350,"h":376,"g":246,"f":20},{"k":"v","p":"e","w":349,"h":384,"g":255,"f":20},{"k":"v","p":"e","w":348,"h":392,"g":248,"f":20},{"k":"v","p":"e","w":346,"h":400,"g":252,"f":21},{"k":"v","p":"e","w":345,"h":408,"g":244,"f":21},{"k":"v","p":"e","w":343,"h":416,"g":252,"f":22},{"k":"v","p":"e","w":341,"h":424,"g":246,"f":22},{"k":"v","p":"e","w":339,"h":432,"g":250,"f":22},{"k":"v","p":"e","w":336,"h":440,"g":246,"f":22},{"k":"v","p":"e","w":334,"h":448,"g":255,"f":22},{"k":"v","p":"e","w":331,"h":456,"g":250,"f":22},{"k":"v","p":"e","w":329,"h":464,"g":255,"f":22},{"k":"v","p":"e","w":327,"h":472,"g":255,"f":22},

{"k":"s","p":"a","w":352,"h":312,"g":252,"w2":352,"h2":312,"g2":48},{"k":"s","p":"c","w":332,"h":250,"g":232,"w2":332,"h2":250,"g2":40},

{"k":"r","p":"e","d":"e2","c":"v","w":339,"h":4,"g":30},{"k":"r","p":"e","d":"e2","c":"v","w":339,"h":44,"g":235},{"k":"r","p":"e","d":"e2","c":"v","w":339,"h":44,"g":30},
{"k":"r","p":"e","d":"e3","c":"v","w":339,"h":30,"g":30},{"k":"r","p":"e","d":"e3","c":"v","w":339,"h":82,"g":235},{"k":"r","p":"e","d":"e3","c":"v","w":339,"h":82,"g":30},
{"k":"r","p":"e","d":"e4","c":"v","w":339,"h":70,"g":28},{"k":"r","p":"e","d":"e4","c":"v","w":339,"h":126,"g":225},{"k":"r","p":"e","d":"e4","c":"v","w":339,"h":126,"g":28},
{"k":"r","p":"e","d":"e5","c":"v","w":339,"h":112,"g":28},{"k":"r","p":"e","d":"e5","c":"v","w":339,"h":170,"g":235},{"k":"r","p":"e","d":"e5","c":"v","w":339,"h":170,"g":28},
{"k":"r","p":"e","d":"e6","c":"v","w":339,"h":176,"g":26},{"k":"r","p":"e","d":"e6","c":"v","w":350,"h":250,"g":20},{"k":"r","p":"e","d":"e6","c":"v","w":350,"h":250,"g":150},
{"k":"r","p":"e","d":"e7","c":"v","w":385,"h":285,"g":6},{"k":"r","p":"e","d":"e7","c":"v","w":376,"h":340,"g":10},{"k":"r","p":"e","d":"e7","c":"v","w":376,"h":340,"g":115},{"k":"r","p":"e","d":"e7","c":"v","w":385,"h":285,"g":50},
{"k":"r","p":"e","d":"e8","c":"v","w":350,"h":376,"g":22},{"k":"r","p":"e","d":"e8","c":"v","w":327,"h":480,"g":24},{"k":"r","p":"e","d":"e8","c":"v","w":327,"h":480,"g":110},{"k":"r","p":"e","d":"e8","c":"v","w":350,"h":376,"g":60},

{"k":"t","p":"a","d":"a","w":355,"h":0,"g":255},{"k":"t","p":"a","d":"a","w":352,"h":480,"g":255},
{"k":"t","p":"b","d":"b1","w":318,"h":0,"g":255},{"k":"t","p":"b","d":"b1","w":308,"h":272,"g":255},{"k":"t","p":"b","d":"b2","w":320,"h":280,"g":255},{"k":"t","p":"b","d":"b2","w":311,"h":480,"g":255},
{"k":"t","p":"c","d":"c1","w":333,"h":0,"g":255},{"k":"t","p":"c","d":"c1","w":333,"h":248,"g":255},{"k":"t","p":"c","d":"c2","w":332,"h":256,"g":255},{"k":"t","p":"c","d":"c2","w":330,"h":480,"g":255},
{"k":"u","p":"d","d":"d","w":285,"h":0,"g":255},{"k":"u","p":"d","d":"d","w":354,"h":304,"g":255},{"k":"u","p":"d","d":"d","w":343,"h":352,"g":255},{"k":"u","p":"d","d":"d","w":322,"h":480,"g":255},
{"k":"t","p":"e","d":"e1","w":339,"h":0,"g":255},{"k":"t","p":"e","d":"e1","w":339,"h":171,"g":255},{"k":"t","p":"e","d":"e2","w":385,"h":280,"g":255},{"k":"t","p":"e","d":"e2","w":376,"h":340,"g":255},
{"k":"u","p":"e","d":"e4","w":375,"h":345,"g":255},{"k":"u","p":"e","d":"e4","w":350,"h":376,"g":255},{"k":"u","p":"e","d":"e4","w":339,"h":434,"g":250},{"k":"u","p":"e","d":"e4","w":327,"h":480,"g":255},

{"k":"lw","p":"bcde","t":"0","w":0,"h":0,"g":0},{"k":"lw","p":"abcde","t":"100","w":100,"h":0,"g":0},{"k":"lw","p":"abcde","t":"200","w":200,"h":0,"g":0},{"k":"lw","p":"abcde","t":"300","w":300,"h":0,"g":0},{"k":"lw","p":"abcde","t":"400","w":400,"h":0,"g":0},{"k":"lw","p":"abcde","t":"500","w":500,"h":0,"g":0},{"k":"lw","p":"abcde","t":"640","w":640,"h":0,"g":0},
{"k":"lh","p":"abcde","t":"0","w":0,"h":0,"g":0},{"k":"lh","p":"abcde","t":"100","w":0,"h":100,"g":0},{"k":"lh","p":"abcde","t":"200","w":0,"h":200,"g":0},{"k":"lh","p":"abcde","t":"300","w":0,"h":300,"g":0},{"k":"lh","p":"abcde","t":"400","w":0,"h":400,"g":0},{"k":"lh","p":"abcde","t":"480","w":0,"h":480,"g":0},
{"k":"lg","p":"abcde","t":"0","w":640,"h":0,"g":0},{"k":"lg","p":"abcde","t":"100","w":640,"h":0,"g":100},{"k":"lg","p":"abcde","t":"200","w":640,"h":0,"g":200},{"k":"lg","p":"abcde","t":"255","w":640,"h":0,"g":255},
{"k":"tw","p":"a","t":"Image width(pixel)","w":258,"h":-126,"g":0},{"k":"tw","p":"b","t":"Image width(pixel)","w":211,"h":-129,"g":0},{"k":"tw","p":"c","t":"Image width(pixel)","w":250,"h":-130,"g":0},{"k":"tw","p":"d","t":"Image width(pixel)","w":209,"h":-133,"g":0},{"k":"tw","p":"e","t":"Image width(pixel)","w":252,"h":-128,"g":0},
{"k":"th","p":"a","t":"Image height(pixel)","w":-187,"h":234,"g":0},{"k":"th","p":"b","t":"Image height(pixel)","w":-200,"h":207,"g":0},{"k":"th","p":"c","t":"Image height(pixel)","w":-189,"h":231,"g":0},{"k":"th","p":"d","t":"Image height(pixel)","w":-171,"h":226,"g":0},{"k":"th","p":"e","t":"Image height(pixel)","w":-194,"h":194,"g":0},
{"k":"tg","p":"a","t":"Gray value","w":640,"h":0,"g":127},{"k":"tg","p":"b","t":"Gray value","w":640,"h":0,"g":127},{"k":"tg","p":"c","t":"Gray value","w":640,"h":0,"g":109},{"k":"tg","p":"d","t":"Gray value","w":640,"h":0,"g":125},{"k":"tg","p":"e","t":"Gray value","w":640,"h":0,"g":110},
{"k":"cap","p":"a","t":"(a)","w":-276,"h":-102,"g":0},{"k":"cap","p":"b","t":"(b)","w":-222,"h":-150,"g":0},{"k":"cap","p":"c","t":"(c)","w":-219,"h":-153,"g":0},{"k":"cap","p":"d","t":"(d)","w":-245,"h":-145,"g":0},{"k":"cap","p":"e","t":"(e)","w":-255,"h":-138,"g":0}
]},
"transform":[
{"calculate":"split(datum.p,'')","as":"p"},{"flatten":["p"]},
{"calculate":"P[datum.p]","as":"q"},
{"calculate":"datum.k=='v'?datum.w:datum.w2","as":"W2"},{"calculate":"datum.k=='v'?datum.h+11:datum.h2","as":"H2"},{"calculate":"datum.k=='v'?datum.f:datum.g2","as":"G2"},
{"calculate":"datum.q[0]+datum.w/640*datum.q[2]+datum.h/480*datum.q[4]","as":"x"},
{"calculate":"datum.q[1]+datum.w/640*datum.q[3]+datum.h/480*datum.q[5]-datum.g*datum.q[6]","as":"y"},
{"calculate":"datum.q[0]+datum.W2/640*datum.q[2]+datum.H2/480*datum.q[4]","as":"xb"},
{"calculate":"datum.k=='v'?(datum.q[1]+datum.w/640*datum.q[3]+datum.h/480*datum.q[5]-datum.f*datum.q[6]):(datum.q[1]+datum.W2/640*datum.q[3]+datum.H2/480*datum.q[5]-datum.G2*datum.q[6])","as":"yb"}
],
"encoding":{"x":{"field":"x","type":"quantitative","axis":null,"scale":{"domain":[0,3390],"range":[0,3390],"nice":false,"zero":false}},"y":{"field":"y","type":"quantitative","axis":null,"scale":{"domain":[0,1370],"range":[0,1370],"nice":false,"zero":false}}},
"layer":[
{"transform":[{"filter":"datum.k=='g'"}],"mark":{"type":"rule","color":"#555","strokeWidth":1.5,"strokeDash":[3,3]},"encoding":{"x2":{"field":"xb"},"y2":{"field":"yb"}}},
{"transform":[{"filter":"datum.k=='a'"}],"mark":{"type":"rule","color":"#666","strokeWidth":2},"encoding":{"x2":{"field":"xb"},"y2":{"field":"yb"}}},
{"transform":[{"filter":"datum.k=='f'"}],"mark":{"type":"line","interpolate":"linear-closed","strokeWidth":0},"encoding":{"fill":{"field":"c","type":"nominal","legend":null,"scale":{"domain":["l","m","n","r","t","b"],"range":["#7a84ee","#7672e2","#7268d8","#7e68cc","#8494f0","#6a9cf0"]}},"detail":{"field":"d"},"order":{"value":null}}},
{"transform":[{"filter":"datum.k=='m'"}],"mark":{"type":"rule","color":"#ffffff","opacity":0.16,"strokeWidth":2,"strokeDash":[2,4]},"encoding":{"x2":{"field":"xb"},"y2":{"field":"yb"}}},
{"transform":[{"filter":"datum.k=='x'"}],"mark":{"type":"rule","color":"#6aa8f0","strokeWidth":2.5},"encoding":{"x2":{"field":"xb"},"y2":{"field":"yb"}}},
{"transform":[{"filter":"datum.k=='v'&&(datum.p=='a'||datum.p=='b'||datum.p=='c')&&pow(datum.h/8,2)%11<4"}],"mark":{"type":"rect","color":{"gradient":"linear","x1":0,"y1":1,"x2":0,"y2":0,"stops":[{"offset":0,"color":"#8a9cf2"},{"offset":0.22,"color":"#82b4f5"},{"offset":0.42,"color":"#56cfe6"},{"offset":0.55,"color":"#5edcd0"},{"offset":0.72,"color":"#8cdfb4"},{"offset":0.88,"color":"#dcdc94"},{"offset":1,"color":"#f2dc88"}]}},"encoding":{"x2":{"field":"xb"},"y2":{"field":"yb"}}},
{"transform":[{"filter":"datum.k=='v'&&(datum.p=='a'||datum.p=='b'||datum.p=='c')&&pow(datum.h/8,2)%11>=4"}],"mark":{"type":"rect","color":{"gradient":"linear","x1":0,"y1":1,"x2":0,"y2":0,"stops":[{"offset":0,"color":"#8a9cf2"},{"offset":0.25,"color":"#86b8f5"},{"offset":0.45,"color":"#5cd2e6"},{"offset":0.62,"color":"#68dcc8"},{"offset":0.85,"color":"#84dfc0"},{"offset":1,"color":"#a8e0a8"}]}},"encoding":{"x2":{"field":"xb"},"y2":{"field":"yb"}}},
{"transform":[{"filter":"datum.k=='v'&&(datum.p=='d'||datum.p=='e')&&pow(datum.h/8,2)%11<4"}],"mark":{"type":"rect","color":{"gradient":"linear","x1":0,"y1":1,"x2":0,"y2":0,"stops":[{"offset":0,"color":"#a4adf6"},{"offset":0.35,"color":"#92bcf6"},{"offset":0.6,"color":"#60cde8"},{"offset":0.82,"color":"#66dcc8"},{"offset":0.95,"color":"#a8e0a0"},{"offset":1,"color":"#e8e080"}]}},"encoding":{"x2":{"field":"xb"},"y2":{"field":"yb"}}},
{"transform":[{"filter":"datum.k=='v'&&(datum.p=='d'||datum.p=='e')&&pow(datum.h/8,2)%11>=4"}],"mark":{"type":"rect","color":{"gradient":"linear","x1":0,"y1":1,"x2":0,"y2":0,"stops":[{"offset":0,"color":"#a8b0f6"},{"offset":0.4,"color":"#98bcf6"},{"offset":0.7,"color":"#70d2e6"},{"offset":1,"color":"#80dcc0"}]}},"encoding":{"x2":{"field":"xb"},"y2":{"field":"yb"}}},
{"transform":[{"filter":"datum.k=='s'"}],"mark":{"type":"rule","color":"#7f9cec","strokeWidth":4},"encoding":{"x2":{"field":"xb"},"y2":{"field":"yb"}}},
{"transform":[{"filter":"datum.k=='r'"}],"mark":{"type":"line","interpolate":"linear-closed","strokeWidth":0,"opacity":0.85,"fill":"#aab4f5"},"encoding":{"detail":{"field":"d"},"order":{"value":null}}},
{"transform":[{"filter":"datum.k=='t'"}],"mark":{"type":"line","color":"#ffff00","strokeWidth":5},"encoding":{"detail":{"field":"d"},"order":{"value":null}}},
{"transform":[{"filter":"datum.k=='u'"}],"mark":{"type":"line","color":"#f2f23a","strokeWidth":2.5},"encoding":{"detail":{"field":"d"},"order":{"value":null}}},
{"transform":[{"filter":"datum.k=='lw'"}],"mark":{"type":"text","font":"Liberation Sans","fontWeight":"bold","fontSize":33,"color":"#222","dx":-50,"dy":33},"encoding":{"text":{"field":"t"}}},
{"transform":[{"filter":"datum.k=='lh'"}],"mark":{"type":"text","font":"Liberation Sans","fontWeight":"bold","fontSize":33,"color":"#222","dx":48,"dy":33},"encoding":{"text":{"field":"t"}}},
{"transform":[{"filter":"datum.k=='lg'"}],"mark":{"type":"text","font":"Liberation Sans","fontWeight":"bold","fontSize":33,"color":"#222","dx":-49,"dy":-4},"encoding":{"text":{"field":"t"}}},
{"transform":[{"filter":"datum.k=='tw'"}],"mark":{"type":"text","font":"Liberation Sans","fontWeight":"bold","fontSize":39,"color":"#222","angle":31,"dy":-8},"encoding":{"text":{"field":"t"}}},
{"transform":[{"filter":"datum.k=='th'"}],"mark":{"type":"text","font":"Liberation Sans","fontWeight":"bold","fontSize":38,"color":"#222","angle":-17,"dy":-12},"encoding":{"text":{"field":"t"}}},
{"transform":[{"filter":"datum.k=='tg'"}],"mark":{"type":"text","font":"Liberation Sans","fontWeight":"bold","fontSize":40,"color":"#222","angle":-90,"dy":-95},"encoding":{"text":{"field":"t"}}},
{"transform":[{"filter":"datum.k=='cap'"}],"mark":{"type":"text","font":"Liberation Serif","fontSize":66,"color":"#111"},"encoding":{"text":{"field":"t"}}}
]}
